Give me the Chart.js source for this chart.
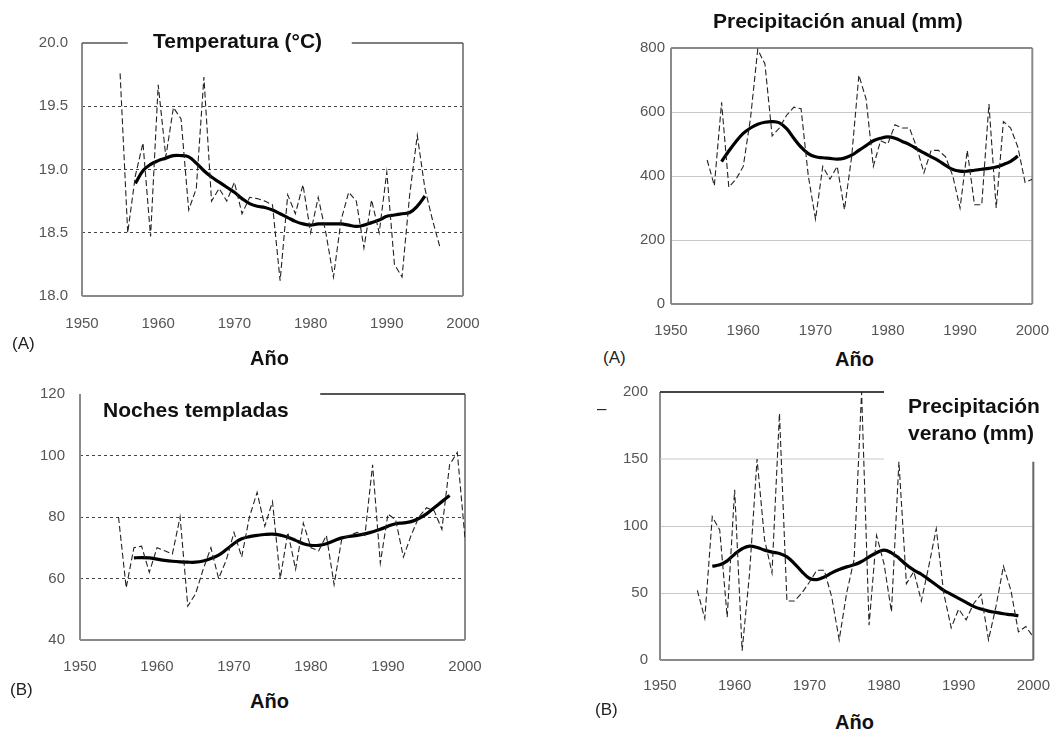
<!DOCTYPE html>
<html>
<head>
<meta charset="utf-8">
<script src="https://cdn.jsdelivr.net/npm/chart.js@4.4.0/dist/chart.umd.min.js"></script>
<style>
body { margin: 0; background: #fff; width: 1059px; height: 731px; position: relative; overflow: hidden;
       font-family: "Liberation Sans", Arial, sans-serif; }
.box { position: absolute; }
.lbl { position: absolute; white-space: nowrap; color: #111; }
.ttl { font-weight: bold; font-size: 21px; line-height: 21px; }
.ano { font-weight: bold; font-size: 20px; line-height: 20px; }
.tag { font-size: 17px; line-height: 17px; color: #222; }
</style>
</head>
<body>
<div class="box" style="left:0;top:0;width:500px;height:345px"><canvas id="c1"></canvas></div>
<div class="box" style="left:560px;top:0;width:499px;height:345px"><canvas id="c2"></canvas></div>
<div class="box" style="left:0;top:370px;width:500px;height:320px"><canvas id="c3"></canvas></div>
<div class="box" style="left:560px;top:370px;width:499px;height:340px"><canvas id="c4"></canvas></div>

<div class="lbl ttl" style="left:153px;top:30px">Temperatura (°C)</div>
<div class="lbl ttl" style="left:713px;top:10px">Precipitación anual (mm)</div>
<div class="lbl ttl" style="left:103px;top:399px">Noches templadas</div>
<div class="lbl ttl" style="left:908px;top:395px">Precipitación</div>
<div class="lbl ttl" style="left:908px;top:422px">verano (mm)</div>

<div class="lbl tag" style="left:12px;top:335px">(A)</div>
<div class="lbl tag" style="left:603px;top:349px">(A)</div>
<div class="lbl tag" style="left:10px;top:681px">(B)</div>
<div class="lbl tag" style="left:595px;top:701px">(B)</div>
<div class="lbl tag" style="left:597px;top:400px">–</div>

<div class="lbl ano" style="left:250px;top:348px">Año</div>
<div class="lbl ano" style="left:835px;top:349px">Año</div>
<div class="lbl ano" style="left:250px;top:691px">Año</div>
<div class="lbl ano" style="left:835px;top:712px">Año</div>

<script>
// anual series start in 1955, smoothed curves start in 1957
function years(from, count) {
    var out = [];
    for (var i = 0; i < count; i++) out.push(from + i);
    return out;
}

var tempYears = years(1955, 43);
var tempAnual = [19.76, 18.5, 18.95, 19.21, 18.47, 19.67, 19.1, 19.49, 19.4, 18.68,
    18.85, 19.73, 18.75, 18.85, 18.75, 18.9, 18.65, 18.78, 18.77, 18.75,
    18.72, 18.12, 18.8, 18.65, 18.88, 18.5, 18.78, 18.5, 18.15, 18.6,
    18.82, 18.75, 18.38, 18.76, 18.5, 18.98, 18.25, 18.15, 18.8, 19.27,
    18.85, 18.6, 18.38];
var tempSmoothYears = years(1957, 39);
var tempSmooth = [18.89, 18.99, 19.04, 19.07, 19.09, 19.11, 19.11, 19.1, 19.05, 18.99,
    18.94, 18.9, 18.86, 18.82, 18.77, 18.73, 18.71, 18.7, 18.68, 18.65,
    18.62, 18.59, 18.57, 18.56, 18.57, 18.57, 18.57, 18.57, 18.56, 18.55,
    18.56, 18.58, 18.6, 18.63, 18.64, 18.65, 18.66, 18.71, 18.79];

var lluviaYears = years(1955, 46);
var lluviaAnual = [450, 370, 630, 365, 390, 430, 580, 795, 750, 525,
    550, 590, 615, 610, 400, 265, 430, 390, 430, 295,
    460, 715, 640, 430, 510, 500, 560, 550, 550, 490,
    410, 480, 480, 460, 400, 300, 480, 310, 310, 625,
    300, 570, 550, 490, 380, 390];
var lluviaSmoothYears = years(1957, 42);
var lluviaSmooth = [445, 478, 508, 533, 550, 562, 568, 570, 566, 548,
    518, 490, 470, 460, 457, 455, 453, 456, 465, 480,
    495, 510, 518, 522, 518, 508, 498, 485, 472, 460,
    448, 433, 420, 415, 415, 418, 421, 424, 428, 436,
    446, 462];

var nochesYears = years(1955, 46);
var nochesAnual = [80, 57, 70, 70.5, 62, 70, 69, 68, 80, 51,
    55, 63, 70, 60, 66, 75, 67, 80, 88, 77,
    85, 60, 75, 63, 78, 70, 69, 74, 58, 73,
    74, 75, 74, 97, 65, 81, 79, 67, 74, 80,
    83, 82, 76, 97, 101, 73];
var nochesSmoothYears = years(1957, 42);
var nochesSmooth = [66.7, 66.8, 66.7, 66.3, 65.9, 65.6, 65.4, 65.3, 65.3, 65.7,
    66.5, 67.6, 69.4, 71.4, 72.9, 73.6, 74.0, 74.3, 74.4, 74.1,
    73.4, 72.4, 71.3, 70.8, 70.8, 71.3, 72.3, 73.2, 73.7, 74.0,
    74.5, 75.2, 76.0, 77.0, 77.8, 78.1, 78.5, 79.5, 81.0, 83.0,
    85.0, 87.0];

var veranoYears = years(1955, 46);
var veranoAnual = [52, 31, 107, 97, 32, 127, 7, 65, 150, 90,
    65, 184, 44, 44, 50, 58, 67, 67, 47, 15,
    50, 75, 200, 26, 93, 72, 36, 148, 57, 66,
    44, 70, 98, 50, 24, 38, 30, 42, 49, 15,
    40, 70, 52, 21, 25, 17];
var veranoSmoothYears = years(1957, 42);
var veranoSmooth = [70, 71, 74, 79, 83, 85, 84, 82, 80.5, 79.5,
    77, 72, 66, 61, 60, 62, 65, 67.5, 69.5, 71,
    73.5, 77, 80, 82, 80, 76, 71, 67, 64, 60,
    56, 52, 49, 46, 43, 40, 38, 36.5, 35.5, 34.5,
    33.8, 33];

//////////////////////////////////////////////

function toPoints(xs, ys) {
    return xs.map(function(x, i) { return {x: x, y: ys[i]}; });
}

// draws frame pieces given in data units
function framePlugin(lines) {
    return {
        id: 'frame',
        beforeDatasetsDraw: function(chart) {
            var sx = chart.scales.x, sy = chart.scales.y, ctx = chart.ctx;
            ctx.save();
            lines.forEach(function(l) {
                ctx.strokeStyle = l.color;
                ctx.lineWidth = l.width;
                ctx.setLineDash(l.dash || []);
                ctx.beginPath();
                ctx.moveTo(sx.getPixelForValue(l.x1), sy.getPixelForValue(l.y1));
                ctx.lineTo(sx.getPixelForValue(l.x2), sy.getPixelForValue(l.y2));
                ctx.stroke();
            });
            ctx.restore();
        }
    };
}

function makePanel(id, box, area, s) {
    var ctx = document.getElementById(id).getContext('2d');
    var tickFont = {family: '"Liberation Sans", Arial, sans-serif', size: 15};
    return new Chart(ctx, {
        type: 'line',
        data: {
            datasets: [{
                data: toPoints(s.xs, s.ys),
                borderColor: '#222',
                borderWidth: 1.1,
                borderDash: [6, 3],
                pointRadius: 0,
                tension: 0
            }, {
                data: toPoints(s.sx, s.sy),
                borderColor: '#000',
                borderWidth: 3.2,
                pointRadius: 0,
                tension: 0.4
            }]
        },
        options: {
            responsive: false,
            animation: false,
            layout: {padding: {left: 0, bottom: 0, top: area.t - box.top, right: box.left + box.w - area.r}},
            plugins: {legend: {display: false}, tooltip: {enabled: false}},
            scales: {
                x: {
                    type: 'linear', min: 1950, max: 2000,
                    grid: {display: false},
                    border: {display: false},
                    ticks: {stepSize: 10, autoSkip: false, maxRotation: 0, padding: s.xPad,
                            color: '#555', font: tickFont,
                            callback: function(v) { return String(v); }},
                    afterFit: function(scale) { scale.height = box.top + box.h - area.b; }
                },
                y: {
                    min: s.min, max: s.max,
                    grid: {
                        drawTicks: false,
                        lineWidth: s.gridWidth,
                        color: function(c) {
                            return s.grid.indexOf(c.tick.value) >= 0 ? s.gridColor : 'rgba(0,0,0,0)';
                        }
                    },
                    border: {display: false, dash: s.gridDash},
                    ticks: {stepSize: s.step, padding: s.yPad, color: '#555', font: tickFont,
                            callback: s.fmt},
                    afterFit: function(scale) { scale.width = area.l - box.left; }
                }
            }
        },
        plugins: [framePlugin(s.frame)]
    });
}

function setSize(id, w, h) {
    var c = document.getElementById(id);
    c.width = w; c.height = h;
    c.style.width = w + 'px'; c.style.height = h + 'px';
}

setSize('c1', 500, 345);
setSize('c2', 499, 345);
setSize('c3', 500, 320);
setSize('c4', 499, 340);

var axisGray = '#8a8a8a';
var darkGray = '#555';

makePanel('c1', {left: 0, top: 0, w: 500, h: 345}, {l: 82, r: 463, t: 43, b: 296}, {
    xs: tempYears, ys: tempAnual, sx: tempSmoothYears, sy: tempSmooth,
    min: 18, max: 20, step: 0.5, grid: [18.5, 19, 19.5],
    gridColor: '#444', gridWidth: 1, gridDash: [3, 3], xPad: 11, yPad: 14,
    fmt: function(v) { return v.toFixed(1); },
    frame: [
        {x1: 1950, y1: 18, x2: 1950, y2: 20, color: axisGray, width: 2},
        {x1: 1950, y1: 18, x2: 2000, y2: 18, color: axisGray, width: 2},
        {x1: 2000, y1: 18, x2: 2000, y2: 20, color: axisGray, width: 2},
        {x1: 1950, y1: 20, x2: 1956, y2: 20, color: darkGray, width: 1.5},
        {x1: 1985.4, y1: 20, x2: 2000, y2: 20, color: darkGray, width: 1.5}
    ]
});

makePanel('c2', {left: 560, top: 0, w: 499, h: 345}, {l: 671, r: 1034, t: 48, b: 304}, {
    xs: lluviaYears, ys: lluviaAnual, sx: lluviaSmoothYears, sy: lluviaSmooth,
    min: 0, max: 800, step: 200, grid: [200, 400, 600],
    gridColor: '#c8c8c8', gridWidth: 1, gridDash: [], xPad: 10, yPad: 6,
    fmt: function(v) { return String(v); },
    frame: [
        {x1: 1950, y1: 0, x2: 1950, y2: 800, color: axisGray, width: 2},
        {x1: 1950, y1: 0, x2: 2000, y2: 0, color: axisGray, width: 2},
        {x1: 2000, y1: 0, x2: 2000, y2: 800, color: axisGray, width: 2},
        {x1: 1950, y1: 800, x2: 2000, y2: 800, color: axisGray, width: 2}
    ]
});

makePanel('c3', {left: 0, top: 370, w: 500, h: 320}, {l: 80, r: 465, t: 391, b: 640}, {
    xs: nochesYears, ys: nochesAnual, sx: nochesSmoothYears, sy: nochesSmooth,
    min: 40, max: 120, step: 20, grid: [60, 80, 100],
    gridColor: '#444', gridWidth: 1, gridDash: [3, 3], xPad: 10, yPad: 15,
    fmt: function(v) { return String(v); },
    frame: [
        {x1: 1950, y1: 40, x2: 1950, y2: 120, color: axisGray, width: 2},
        {x1: 1950, y1: 40, x2: 2000, y2: 40, color: axisGray, width: 2},
        {x1: 2000, y1: 40, x2: 2000, y2: 120, color: axisGray, width: 2},
        {x1: 1981.2, y1: 120, x2: 2000, y2: 120, color: darkGray, width: 2}
    ]
});

makePanel('c4', {left: 560, top: 370, w: 499, h: 340}, {l: 660, r: 1035, t: 392, b: 660}, {
    xs: veranoYears, ys: veranoAnual, sx: veranoSmoothYears, sy: veranoSmooth,
    min: 0, max: 200, step: 50, grid: [50, 100],
    gridColor: '#c8c8c8', gridWidth: 1, gridDash: [], xPad: 9, yPad: 12,
    fmt: function(v) { return String(v); },
    frame: [
        {x1: 1950, y1: 0, x2: 1950, y2: 200, color: axisGray, width: 2},
        {x1: 1950, y1: 0, x2: 2000, y2: 0, color: axisGray, width: 2},
        {x1: 2000, y1: 0, x2: 2000, y2: 148, color: '#666', width: 2},
        {x1: 1950, y1: 200, x2: 1980, y2: 200, color: '#444', width: 2},
        {x1: 1950, y1: 150, x2: 1980, y2: 150, color: '#c8c8c8', width: 1}
    ]
});
</script>
</body>
</html>
